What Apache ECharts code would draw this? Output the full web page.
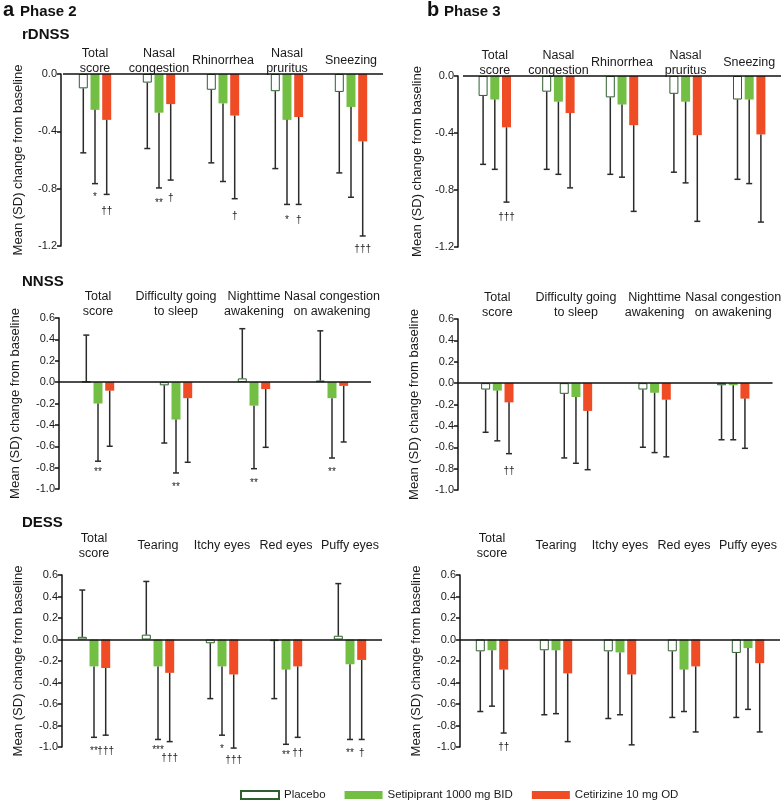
<!DOCTYPE html>
<html>
<head>
<meta charset="utf-8">
<script src="https://cdn.jsdelivr.net/npm/echarts@6/dist/echarts.min.js"></script>
<style>
  html, body { margin: 0; padding: 0; background: #fff; }
  #main { width: 784px; height: 803px; }
</style>
</head>
<body>
<div id="main"></div>
<script>
// categories
const rdnssCats = ['Total\nscore', 'Nasal\ncongestion', 'Rhinorrhea', 'Nasal\npruritus', 'Sneezing'];
const nnssCats = ['Total\nscore', 'Difficulty going\nto sleep', 'Nighttime\nawakening', 'Nasal congestion\non awakening'];
const dessCats = ['Total\nscore', 'Tearing', 'Itchy eyes', 'Red eyes', 'Puffy eyes'];

const seriesNames = ['Placebo', 'Setipiprant 1000 mg BID', 'Cetirizine 10 mg OD'];

// Phase 2 rDNSS: means and error-bar tips (mean ± SD)
const aRdnssPlacebo = [-0.10, -0.06, -0.11, -0.12, -0.125];
const aRdnssSeti = [-0.25, -0.27, -0.205, -0.32, -0.23];
const aRdnssCeti = [-0.32, -0.21, -0.29, -0.30, -0.47];
const aRdnssPlaceboTip = [-0.55, -0.52, -0.62, -0.66, -0.69];
const aRdnssSetiTip = [-0.765, -0.795, -0.75, -0.91, -0.86];
const aRdnssCetiTip = [-0.84, -0.74, -0.87, -0.91, -1.13];
const aRdnssMarks = [[0, 1, -0.86, '*'], [0, 2, -0.96, '††'], [1, 1, -0.90, '**'], [1, 2, -0.87, '†'],
  [2, 2, -0.99, '†'], [3, 1, -1.02, '*'], [3, 2, -1.02, '†'], [4, 2, -1.22, '†††']];

// Phase 3 rDNSS
const bRdnssPlacebo = [-0.14, -0.11, -0.15, -0.125, -0.165];
const bRdnssSeti = [-0.165, -0.18, -0.20, -0.18, -0.165];
const bRdnssCeti = [-0.36, -0.26, -0.345, -0.415, -0.41];
const bRdnssPlaceboTip = [-0.62, -0.655, -0.69, -0.675, -0.725];
const bRdnssSetiTip = [-0.655, -0.69, -0.71, -0.75, -0.755];
const bRdnssCetiTip = [-0.885, -0.785, -0.95, -1.02, -1.025];
const bRdnssMarks = [[0, 2, -0.99, '†††']];

// Phase 2 NNSS
const aNnssPlacebo = [0.005, -0.03, 0.035, 0.015];
const aNnssSeti = [-0.20, -0.35, -0.22, -0.15];
const aNnssCeti = [-0.08, -0.15, -0.065, -0.035];
const aNnssPlaceboTip = [0.44, -0.57, 0.50, 0.48];
const aNnssSetiTip = [-0.74, -0.85, -0.81, -0.71];
const aNnssCetiTip = [-0.60, -0.75, -0.61, -0.56];
const aNnssMarks = [[0, 1, -0.84, '**'], [1, 1, -0.98, '**'], [2, 1, -0.95, '**'], [3, 1, -0.84, '**']];

// Phase 3 NNSS
const bNnssPlacebo = [-0.06, -0.10, -0.06, -0.02];
const bNnssSeti = [-0.07, -0.13, -0.09, -0.02];
const bNnssCeti = [-0.18, -0.26, -0.155, -0.145];
const bNnssPlaceboTip = [-0.46, -0.70, -0.60, -0.53];
const bNnssSetiTip = [-0.54, -0.75, -0.65, -0.53];
const bNnssCetiTip = [-0.66, -0.81, -0.69, -0.61];
const bNnssMarks = [[0, 2, -0.82, '††']];

// Phase 2 DESS
const aDessPlacebo = [0.025, 0.045, -0.035, -0.015, 0.035];
const aDessSeti = [-0.25, -0.25, -0.25, -0.28, -0.23];
const aDessCeti = [-0.265, -0.31, -0.325, -0.25, -0.19];
const aDessPlaceboTip = [0.46, 0.54, -0.55, -0.55, 0.52];
const aDessSetiTip = [-0.91, -0.93, -0.89, -0.975, -0.93];
const aDessCetiTip = [-0.89, -0.95, -1.01, -0.91, -0.93];
const aDessMarks = [[0, 1, -1.04, '**'], [0, 2, -1.04, '†††'], [1, 1, -1.03, '***'], [1, 2, -1.10, '†††'],
  [2, 1, -1.025, '*'], [2, 2, -1.12, '†††'], [3, 1, -1.08, '**'], [3, 2, -1.06, '††'],
  [4, 1, -1.06, '**'], [4, 2, -1.06, '†']];

// Phase 3 DESS
const bDessPlacebo = [-0.11, -0.10, -0.11, -0.11, -0.125];
const bDessSeti = [-0.10, -0.10, -0.12, -0.28, -0.08];
const bDessCeti = [-0.28, -0.315, -0.325, -0.25, -0.22];
const bDessPlaceboTip = [-0.67, -0.70, -0.735, -0.725, -0.725];
const bDessSetiTip = [-0.62, -0.69, -0.70, -0.67, -0.65];
const bDessCetiTip = [-0.87, -0.95, -0.98, -0.86, -0.86];
const bDessMarks = [[0, 2, -1.0, '††']];

const FONT = '"Liberation Sans", Arial, sans-serif';
const colors = ['#ffffff', '#72bf44', '#ef4b24'];
const BAR_W = 9;
const STEP = BAR_W * 1.3;

// one entry per panel: grid box, y range, data
const panels = [
  {grid: {left: 63, top: 74, width: 320, height: 172}, off: 2, min: -1.2, max: 0, interval: 0.4, cats: rdnssCats, margin: 13,
    means: [aRdnssPlacebo, aRdnssSeti, aRdnssCeti], tips: [aRdnssPlaceboTip, aRdnssSetiTip, aRdnssCetiTip], marks: aRdnssMarks},
  {grid: {left: 463, top: 76, width: 318, height: 171}, off: 5, min: -1.2, max: 0, interval: 0.4, cats: rdnssCats, margin: 13,
    means: [bRdnssPlacebo, bRdnssSeti, bRdnssCeti], tips: [bRdnssPlaceboTip, bRdnssSetiTip, bRdnssCetiTip], marks: bRdnssMarks},
  {grid: {left: 59, top: 318, width: 312, height: 171}, off: 0, min: -1.0, max: 0.6, interval: 0.2, cats: nnssCats, margin: 14,
    means: [aNnssPlacebo, aNnssSeti, aNnssCeti], tips: [aNnssPlaceboTip, aNnssSetiTip, aNnssCetiTip], marks: aNnssMarks},
  {grid: {left: 458, top: 319, width: 316, height: 171}, off: 0, min: -1.0, max: 0.6, interval: 0.2, cats: nnssCats, margin: 14,
    means: [bNnssPlacebo, bNnssSeti, bNnssCeti], tips: [bNnssPlaceboTip, bNnssSetiTip, bNnssCetiTip], marks: bNnssMarks},
  {grid: {left: 62, top: 575, width: 320, height: 172}, off: 0, min: -1.0, max: 0.6, interval: 0.2, cats: dessCats, margin: 29,
    means: [aDessPlacebo, aDessSeti, aDessCeti], tips: [aDessPlaceboTip, aDessSetiTip, aDessCetiTip], marks: aDessMarks},
  {grid: {left: 460, top: 575, width: 320, height: 172}, off: 0, min: -1.0, max: 0.6, interval: 0.2, cats: dessCats, margin: 29,
    means: [bDessPlacebo, bDessSeti, bDessCeti], tips: [bDessPlaceboTip, bDessSetiTip, bDessCetiTip], marks: bDessMarks}
];

function renderError(params, api) {
  const cat = api.value(0), k = api.value(1);
  const base = api.coord([cat, api.value(2)]);
  const end = api.coord([cat, api.value(3)]);
  const x = base[0] + (k - 1) * STEP;
  const st = {stroke: '#2b2b2b', lineWidth: 1.5};
  return {
    type: 'group',
    children: [
      {type: 'line', shape: {x1: x, y1: base[1], x2: x, y2: end[1]}, style: st},
      {type: 'line', shape: {x1: x - 3, y1: end[1], x2: x + 3, y2: end[1]}, style: st}
    ]
  };
}

function renderMark(params, api) {
  const cat = api.value(0), k = api.value(1);
  const p = api.coord([cat, api.value(2)]);
  return {
    type: 'text',
    x: p[0] + (k - 1) * STEP,
    y: p[1],
    style: {text: api.value(3), fill: '#222', font: '10px ' + FONT, align: 'center', verticalAlign: 'middle'}
  };
}

const grids = [], xAxes = [], yAxes = [], series = [];
panels.forEach((pn, i) => {
  grids.push(pn.grid);
  xAxes.push({
    type: 'category', gridIndex: i, data: pn.cats, position: 'top',
    axisLine: {show: false, onZero: false}, axisTick: {show: false},
    axisLabel: {interval: 0, margin: pn.margin, verticalAlign: 'middle', lineHeight: 15,
      fontSize: 12.5, color: '#1a1a1a', fontFamily: FONT}
  });
  yAxes.push({
    type: 'value', gridIndex: i, min: pn.min, max: pn.max, interval: pn.interval, offset: pn.off,
    name: 'Mean (SD) change from baseline', nameLocation: 'middle', nameGap: 37 - pn.off / 2,
    nameTextStyle: {fontSize: 13, color: '#1a1a1a', fontFamily: FONT},
    splitLine: {show: false},
    axisLine: {show: true, lineStyle: {color: '#111', width: 1.5}},
    axisTick: {show: true, length: 4, lineStyle: {color: '#111', width: 1.5}},
    axisLabel: {fontSize: 11, color: '#1a1a1a', fontFamily: FONT, margin: 4,
      formatter: v => v.toFixed(1)}
  });
  pn.means.forEach((arr, k) => {
    const s = {
      type: 'bar', name: seriesNames[k], xAxisIndex: i, yAxisIndex: i, data: arr,
      barWidth: BAR_W, barGap: '30%',
      itemStyle: k === 0 ? {color: '#ffffff', borderColor: '#2f5e2f', borderWidth: 1} : {color: colors[k]},
      emphasis: {disabled: true}
    };
    if (k === 0) {
      s.markLine = {
        silent: true, symbol: 'none', label: {show: false},
        lineStyle: {color: '#111', width: 1.5, type: 'solid'},
        data: [{yAxis: 0}]
      };
    }
    series.push(s);
  });
  const errData = [];
  pn.means.forEach((arr, k) => arr.forEach((m, c) => errData.push([c, k, m, pn.tips[k][c]])));
  series.push({type: 'custom', xAxisIndex: i, yAxisIndex: i, renderItem: renderError,
    data: errData, encode: {x: 0, y: [2, 3]}, z: 3, silent: true});
  series.push({type: 'custom', xAxisIndex: i, yAxisIndex: i, renderItem: renderMark,
    data: pn.marks, encode: {x: 0, y: 2}, z: 4, silent: true});
});

const txt = (left, top, text, size, weight) => ({
  type: 'text', left: left, top: top,
  style: {text: text, font: (weight || 'bold') + ' ' + size + 'px ' + FONT, fill: '#111'}
});

var chartDom = document.getElementById('main');
var myChart = echarts.init(chartDom);
var option = {
  animation: false,
  backgroundColor: '#fff',
  grid: grids,
  xAxis: xAxes,
  yAxis: yAxes,
  series: series,
  legend: {
    data: seriesNames, left: 240, top: 789, padding: 0, icon: 'rect', itemWidth: 38, itemHeight: 8, itemGap: 19,
    textStyle: {fontSize: 11.5, color: '#1a1a1a', fontFamily: FONT},
    selectedMode: false
  },
  graphic: [
    txt(3, 0, 'a', 20),
    txt(20, 4, 'Phase 2', 15),
    txt(427, 0, 'b', 20),
    txt(444, 4, 'Phase 3', 15),
    txt(22, 27, 'rDNSS', 15),
    txt(22, 274, 'NNSS', 15),
    txt(22, 515, 'DESS', 15)
  ]
};
option && myChart.setOption(option);
</script>
</body>
</html>
